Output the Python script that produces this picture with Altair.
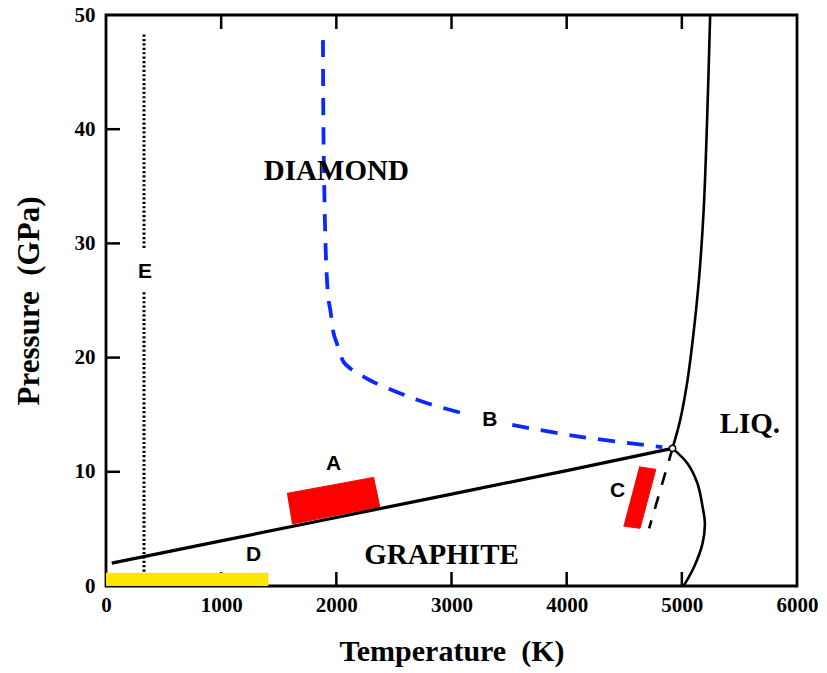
import altair as alt
import pandas as pd

# ---------------- data ----------------
# graphite / diamond boundary (solid black)
gd_T = [50, 1000, 2000, 3000, 4000, 4919]
gd_P = [2.0, 3.95, 6.0, 8.05, 10.1, 12.05]
# diamond / liquid boundary (solid black)
dl_T = [4919, 4985, 5049, 5100, 5150, 5190, 5220, 5246]
dl_P = [12.05, 14.5, 18.0, 22.0, 27.0, 33.0, 41.0, 50.0]
# graphite / liquid boundary (solid black)
gl_T = [4919, 5049, 5136, 5180, 5200, 5180, 5107, 5015]
gl_P = [12.05, 10.73, 8.98, 6.94, 5.5, 3.73, 1.69, 0.0]
# metastable extension (black dashed)
ext_T = [4919, 4716]
ext_P = [12.05, 5.05]
# B : blue dashed curve (two pieces around the label)
b1_T = [1884, 1890, 1913, 1933, 1948, 1977, 2006, 2064, 2122, 2296, 2557, 2817, 3107]
b1_P = [47.8, 38.2, 27.95, 25.0, 24.15, 22.1, 21.2, 19.6, 19.05, 18.0, 16.86, 15.92, 15.1]
b2_T = [3528, 4122, 4830]
b2_P = [14.1, 13.06, 12.17]
# triple point
tp_T = [4919]
tp_P = [12.05]
# A and C red regions (corners)
a_T = [1571, 2324, 2377, 1615]
a_P = [8.11, 9.51, 6.94, 5.43]
c_T = [4629, 4774, 4637, 4493]
c_P = [10.44, 10.21, 5.05, 5.25]
# D yellow band
d_T = [0, 1410]
d_P = [0, 1.17]
# E dotted line (two pieces around the label)
e_T = [330, 330]
e_lo = [1.25, 29.6]
e_hi = [25.9, 48.5]
# tick marks
x_ticks = [1000, 2000, 3000, 4000, 5000]
y_ticks = [10, 20, 30, 40]
x_tick_labels = [0, 1000, 2000, 3000, 4000, 5000, 6000]
y_tick_labels = [0, 10, 20, 30, 40, 50]
# text labels
region_text = ["DIAMOND", "GRAPHITE", "LIQ."]
region_T = [2000, 2913, 5591]
region_P = [36.3, 2.7, 14.2]
letter_text = ["A", "B", "C", "D", "E"]
letter_T = [1977, 3333, 4441, 1281, 339]
letter_P = [10.7, 14.5, 8.33, 2.7, 27.5]

SERIF = "Liberation Serif"
SANS = "Liberation Sans"
NB = "\u00a0"

xscale = alt.Scale(domain=[0, 6000], nice=False, zero=False)
yscale = alt.Scale(domain=[0, 50], nice=False, zero=False)
xaxis = alt.Axis(values=x_tick_labels, title="Temperature" + NB + NB + "(K)", format="d",
                 labelFont=SERIF, labelFontWeight="bold", labelFontSize=21,
                 labelColor="black", labelPadding=8, labelFlush=False,
                 titleFont=SERIF, titleFontWeight="bold", titleFontSize=30,
                 titleColor="black", titlePadding=21,
                 domain=False, ticks=False, grid=False)
yaxis = alt.Axis(values=y_tick_labels, title="Pressure" + NB + NB + "(GPa)", format="d",
                 labelFont=SERIF, labelFontWeight="bold", labelFontSize=21,
                 labelColor="black", labelPadding=11, labelFlush=False,
                 titleFont=SERIF, titleFontWeight="bold", titleFontSize=31,
                 titleColor="black", titlePadding=29,
                 domain=False, ticks=False, grid=False)
X = alt.X("T:Q", scale=xscale, axis=xaxis)
Y = alt.Y("P:Q", scale=yscale, axis=yaxis)


def df(T, P, **extra):
    d = pd.DataFrame({"T": T, "P": P})
    for k, v in extra.items():
        d[k] = v
    d["i"] = range(len(d))
    return d


# inward ticks
bottom_ticks = alt.Chart(pd.DataFrame({"T": x_ticks})).mark_rule(color="black", strokeWidth=2.5).encode(
    x=X, y=alt.value(571), y2=alt.value(557))
top_ticks = alt.Chart(pd.DataFrame({"T": x_ticks})).mark_rule(color="black", strokeWidth=2.5).encode(
    x=X, y=alt.value(0), y2=alt.value(14))
left_ticks = alt.Chart(pd.DataFrame({"P": y_ticks})).mark_rule(color="black", strokeWidth=2.5).encode(
    y=Y, x=alt.value(0), x2=alt.value(14))

# yellow band D
d_band = alt.Chart(pd.DataFrame({"T": [d_T[0]], "T2": [d_T[1]], "P": [d_P[0]], "P2": [d_P[1]]})).mark_rect(
    color="#fbe800").encode(x=X, x2="T2:Q", y=Y, y2="P2:Q")

# red regions
reg_a = alt.Chart(df(a_T, a_P)).mark_line(fill="#ff0000", stroke="#ff0000", strokeWidth=1).encode(
    x=X, y=Y, order="i:Q")
reg_c = alt.Chart(df(c_T, c_P)).mark_line(fill="#ff0000", stroke="#ff0000", strokeWidth=1).encode(
    x=X, y=Y, order="i:Q")

# E dotted line
e_line = alt.Chart(pd.DataFrame({"T": e_T, "P": e_lo, "P2": e_hi})).mark_rule(
    color="black", strokeWidth=3, strokeDash=[2.2, 2.2]).encode(x=X, y=Y, y2="P2:Q")

# boundaries
gd = alt.Chart(df(gd_T, gd_P)).mark_line(color="black", strokeWidth=3.2).encode(x=X, y=Y, order="i:Q")
dl = alt.Chart(df(dl_T, dl_P)).mark_line(color="black", strokeWidth=2.6, interpolate="catmull-rom").encode(
    x=X, y=Y, order="i:Q")
gl = alt.Chart(df(gl_T, gl_P)).mark_line(color="black", strokeWidth=2.6, interpolate="catmull-rom").encode(
    x=X, y=Y, order="i:Q")
ext = alt.Chart(df(ext_T, ext_P)).mark_line(color="black", strokeWidth=2.6, strokeDash=[13, 12]).encode(
    x=X, y=Y, order="i:Q")
b_data = pd.concat([df(b1_T, b1_P, seg="b1"), df(b2_T, b2_P, seg="b2")])
bline = alt.Chart(b_data).mark_line(color="#0a28ff", strokeWidth=3.8, strokeDash=[17, 12],
                                    interpolate="catmull-rom").encode(
    x=X, y=Y, order="i:Q", detail="seg:N")

tp = alt.Chart(df(tp_T, tp_P)).mark_point(shape="circle", filled=True, fill="white", stroke="black",
                                          strokeWidth=1.5, size=40, opacity=1).encode(x=X, y=Y)

regions = alt.Chart(pd.DataFrame({"T": region_T, "P": region_P, "text": region_text})).mark_text(
    font=SERIF, fontWeight="bold", fontSize=29, color="black", align="center", baseline="middle").encode(
    x=X, y=Y, text="text:N")
letters = alt.Chart(pd.DataFrame({"T": letter_T, "P": letter_P, "text": letter_text})).mark_text(
    font=SANS, fontWeight="bold", fontSize=21, color="black", align="center", baseline="middle").encode(
    x=X, y=Y, text="text:N")

chart = alt.layer(
    bottom_ticks, top_ticks, left_ticks, d_band, reg_a, reg_c, e_line,
    gd, dl, gl, ext, bline, tp, regions, letters
).properties(
    width=691, height=571,
    padding={"left": 106, "top": 15, "right": 30, "bottom": 87},
    autosize=alt.AutoSizeParams(type="none"),
    background="white",
).configure_view(stroke="black", strokeWidth=2.8)

chart.save("out.html", embed_options={"renderer": "svg", "actions": False})
